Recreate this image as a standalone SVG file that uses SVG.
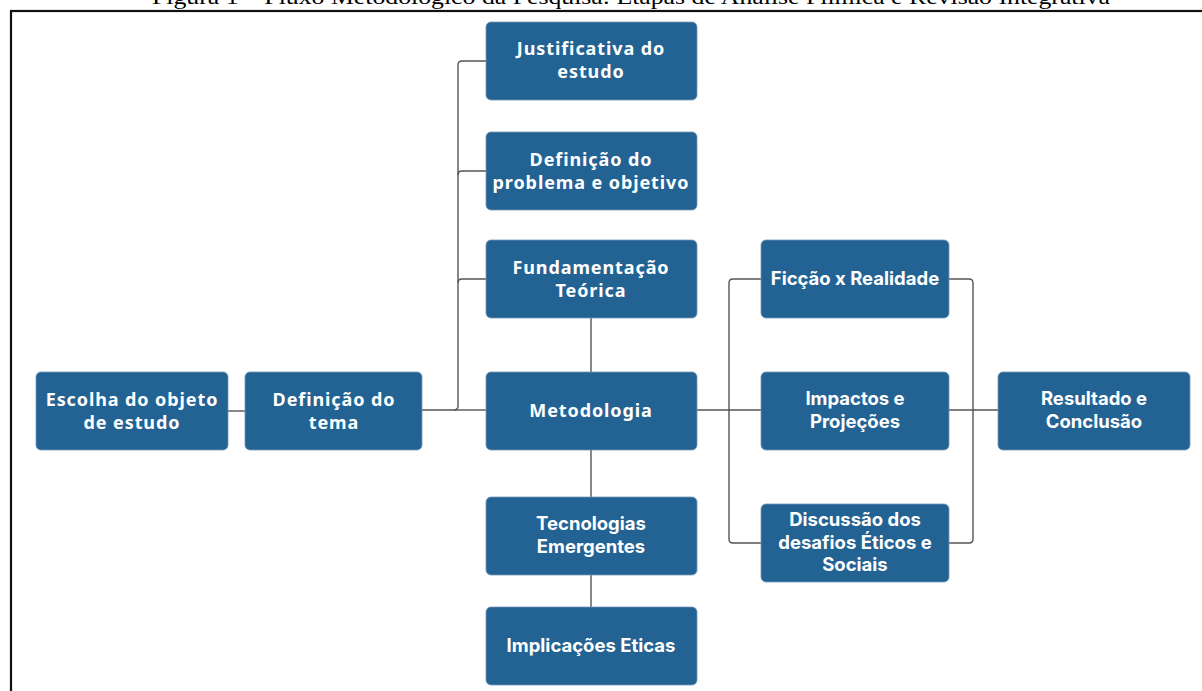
<svg xmlns="http://www.w3.org/2000/svg" width="1202" height="691" viewBox="0 0 1202 691">
<style>
.box{fill:#236394;stroke:#6f97b8;stroke-width:0.8}
.t1{font-family:"Noto Sans","Open Sans",sans-serif;font-weight:700;font-size:18px;fill:#ffffff;text-anchor:middle;letter-spacing:0.9px}
.t2{font-family:Inter,"Liberation Sans",sans-serif;font-weight:700;font-size:18.5px;fill:#ffffff;text-anchor:middle}
.c{fill:none;stroke:#555555;stroke-width:1.4}
</style>
<rect x="0" y="0" width="1202" height="691" fill="#ffffff"/>
<text x="631" y="4" font-family="Liberation Serif,serif" font-size="22" text-anchor="middle" textLength="958" lengthAdjust="spacingAndGlyphs" fill="#000">Figura 1 – Fluxo Metodológico da Pesquisa: Etapas de Análise Fílmica e Revisão Integrativa</text>
<rect x="11" y="11" width="1200" height="700" fill="none" stroke="#111" stroke-width="2.2"/>
<g id="connectors">
<path class="c" d="M228 411H245"/>
<path class="c" d="M422 410H454Q458 410 458 406V65Q458 61 462 61H486"/>
<path class="c" d="M458 175Q458 171 462 171H486"/>
<path class="c" d="M458 283Q458 279 462 279H486"/>
<path class="c" d="M454 410H486"/>
<path class="c" d="M591 318V372"/>
<path class="c" d="M591 450V497"/>
<path class="c" d="M591 575V607"/>
<path class="c" d="M697 410H761"/>
<path class="c" d="M761 279H733Q729 279 729 283V539Q729 543 733 543H761"/>
<path class="c" d="M949 279H969Q973 279 973 283V539Q973 543 969 543H949"/>
<path class="c" d="M949 410H998"/>
</g>
<g id="n-justificativa"><rect class="box" x="486" y="22" width="211" height="78" rx="5"/><text class="t1" x="591" y="55">Justificativa do</text><text class="t1" x="591" y="78">estudo</text></g>
<g id="n-problema"><rect class="box" x="486" y="132" width="211" height="78" rx="5"/><text class="t1" x="591" y="166">Definição do</text><text class="t1" x="591" y="189">problema e objetivo</text></g>
<g id="n-fundamentacao"><rect class="box" x="486" y="240" width="211" height="78" rx="5"/><text class="t1" x="591" y="274">Fundamentação</text><text class="t1" x="591" y="297">Teórica</text></g>
<g id="n-metodologia"><rect class="box" x="486" y="372" width="211" height="78" rx="5"/><text class="t1" x="591" y="417">Metodologia</text></g>
<g id="n-tecnologias"><rect class="box" x="486" y="497" width="211" height="78" rx="5"/><text class="t2" x="591" y="530">Tecnologias</text><text class="t2" x="591" y="553">Emergentes</text></g>
<g id="n-implicacoes"><rect class="box" x="486" y="607" width="211" height="78" rx="5"/><text class="t2" x="591" y="652">Implicações Eticas</text></g>
<g id="n-escolha"><rect class="box" x="36" y="372" width="192" height="78" rx="5"/><text class="t1" x="132" y="406">Escolha do objeto</text><text class="t1" x="132" y="429">de estudo</text></g>
<g id="n-tema"><rect class="box" x="245" y="372" width="177" height="78" rx="5"/><text class="t1" x="334" y="406">Definição do</text><text class="t1" x="334" y="429">tema</text></g>
<g id="n-ficcao"><rect class="box" x="761" y="240" width="188" height="78" rx="5"/><text class="t2" x="855" y="285">Ficção x Realidade</text></g>
<g id="n-impactos"><rect class="box" x="761" y="372" width="188" height="78" rx="5"/><text class="t2" x="855" y="405">Impactos e</text><text class="t2" x="855" y="428">Projeções</text></g>
<g id="n-discussao"><rect class="box" x="761" y="504" width="188" height="78" rx="5"/><text class="t2" x="855" y="526">Discussão dos</text><text class="t2" x="855" y="549">desafios Éticos e</text><text class="t2" x="855" y="571">Sociais</text></g>
<g id="n-resultado"><rect class="box" x="998" y="372" width="192" height="78" rx="5"/><text class="t2" x="1094" y="405">Resultado e</text><text class="t2" x="1094" y="428">Conclusão</text></g>
</svg>
